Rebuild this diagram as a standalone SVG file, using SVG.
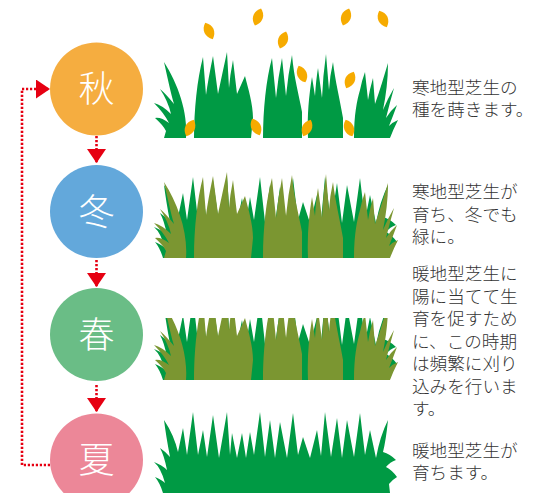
<svg xmlns="http://www.w3.org/2000/svg" xmlns:xlink="http://www.w3.org/1999/xlink" width="540" height="493" viewBox="0 0 540 493">
  <style>
    .season { fill: #fff; font-family: "Noto Sans CJK JP", "Noto Sans", sans-serif; font-size: 36px; font-weight: 300; text-anchor: middle; }
    .note { fill: #333; font-family: "Noto Sans CJK JP", "Noto Sans", sans-serif; font-size: 17.6px; font-weight: 300; }
    .green { fill: #009a44; }
    .olive { fill: #7b9631; }
    .leaf { fill: #f6ab00; }
    .link { fill: none; stroke: #e60012; stroke-width: 2.6; stroke-dasharray: 2.2 1.8; }
  </style>
  <defs>
    <marker id="head" viewBox="0 0 14 19" markerWidth="14" markerHeight="19" refX="14" refY="9.5" markerUnits="userSpaceOnUse" orient="auto">
      <path d="M0,0 L14,9.5 L0,19 Z" fill="#e60012"/>
    </marker>
    <!-- full summer tuft, base on y=493 -->
    <path id="tuft" d="M163,493 Q160,483 155,477 Q162,480 165,483 Q161,468 154,462 Q162,465 167,470 Q164,455 160,448 Q166,452 170,457 Q166,436 164,420 Q174,435 178,452 L183,428 L187,455 L193,412 L198,455 L203,430 L207,457 L213,415 L219,458 L227,412 L230,455 L232,433 L237,458 L242,433 L246,458 L250,432 L254,455 L260,412 L265,457 L270,420 L275,458 L280,422 L287,458 L293,413 L298,455 L303,437 L310,458 L317,430 L321,456 L325,412 L331,457 L337,418 L342,458 L347,420 L354,457 L360,413 L365,455 L370,430 L376,458 Q380,436 388,420 Q386,440 383,452 Q390,454 396,460 Q390,462 386,467 Q392,470 397,477 Q392,480 389,484 L390,493 Z"/>
    <!-- five separate clumps, base on y=138 -->
    <g id="clumps">
      <path d="M186,138 C188,112 178,84 164,62 C168,80 171,94 174,104 Q166,94 160,89 Q168,101 171,114 Q162,105 154,103 Q164,113 169,123 Q161,117 155,118 Q163,125 166,131 L164,138 Z"/>
      <path d="M194,138 C194,110 197,80 203,57 L206,95 Q208,80 213,56 L218,94 Q222,75 227,52 L229,88 Q230,75 233,60 L237,94 Q241,85 245,76 C248,88 253,104 253,118 L251,138 Z"/>
      <path d="M263,138 C263,110 266,80 272,58 L276,98 Q278,78 282,58 L286,96 Q288,75 292,55 C294,78 299,95 302,112 L302,138 Z"/>
      <path d="M308,138 C307,115 309,95 312,77 L315,96 Q316,80 318,68 L322,98 Q323,75 326,54 L329,90 Q330,75 333,62 C335,80 340,100 343,118 L343,138 Z"/>
      <path d="M354,138 C354,115 357,100 360,90 Q362,80 365,72 L368,100 Q370,88 373,78 L375,104 C380,90 384,76 388,63 C388,80 386,95 383,110 Q388,98 394,88 Q390,102 386,118 Q391,110 397,105 Q393,116 389,126 Q393,122 398,120 Q393,130 390,138 Z"/>
    </g>
    <path id="leafShape" d="M0,-9 C6.5,-4 6.5,4 0,9 C-6.5,4 -6.5,-4 0,-9 Z"/>
    <clipPath id="mowed">
      <rect x="150" y="318" width="252" height="63"/>
    </clipPath>
  </defs>

  <g id="connectors">
    <path class="link" d="M96.5,136 V163" marker-end="url(#head)"/>
    <path class="link" d="M96.5,260 V287" marker-end="url(#head)"/>
    <path class="link" d="M96.5,385 V412" marker-end="url(#head)"/>
    <path class="link" d="M50,465 H22 V89 H50" marker-end="url(#head)"/>
  </g>

  <g id="node-aki">
    <circle cx="96.5" cy="89" r="46.5" fill="#f5ad40"/>
    <text class="season" x="96.5" y="102">秋</text>
  </g>
  <g id="node-fuyu">
    <circle cx="96.5" cy="211.5" r="46.5" fill="#63a8db"/>
    <text class="season" x="96.5" y="224.5">冬</text>
  </g>
  <g id="node-haru">
    <circle cx="96.5" cy="334.5" r="46.5" fill="#6abd86"/>
    <text class="season" x="96.5" y="347.5">春</text>
  </g>
  <g id="node-natsu">
    <circle cx="96.5" cy="460" r="46.5" fill="#ec8798"/>
    <text class="season" x="96.5" y="473">夏</text>
  </g>

  <!-- autumn lawn with falling leaves -->
  <g id="lawn-aki">
    <use xlink:href="#clumps" class="green"/>
    <g class="leaf">
      <use xlink:href="#leafShape" transform="translate(209,31) rotate(-25)"/>
      <use xlink:href="#leafShape" transform="translate(258,17) rotate(20)"/>
      <use xlink:href="#leafShape" transform="translate(283,40) rotate(20)"/>
      <use xlink:href="#leafShape" transform="translate(346,17) rotate(20)"/>
      <use xlink:href="#leafShape" transform="translate(383,19) rotate(-25)"/>
      <use xlink:href="#leafShape" transform="translate(302,74) rotate(-22)"/>
      <use xlink:href="#leafShape" transform="translate(350,80) rotate(25)"/>
      <use xlink:href="#leafShape" transform="translate(190,128) rotate(25)"/>
      <use xlink:href="#leafShape" transform="translate(256,127) rotate(-25)"/>
      <use xlink:href="#leafShape" transform="translate(307,128) rotate(25)"/>
      <use xlink:href="#leafShape" transform="translate(349,128) rotate(-22)"/>
    </g>
  </g>

  <!-- winter lawn -->
  <g id="lawn-fuyu">
    <use xlink:href="#tuft" class="green" transform="translate(0,-235)"/>
    <use xlink:href="#clumps" class="olive" transform="translate(0,120)"/>
  </g>

  <!-- spring lawn, mowed short -->
  <g id="lawn-haru" clip-path="url(#mowed)">
    <use xlink:href="#tuft" class="green" transform="translate(0,-113)"/>
    <use xlink:href="#clumps" class="olive" transform="translate(0,242)"/>
  </g>

  <!-- summer lawn -->
  <g id="lawn-natsu">
    <use xlink:href="#tuft" class="green"/>
  </g>

  <g id="note-aki" class="note">
    <text x="412" y="94">寒地型芝生の</text>
    <text x="412" y="116">種を蒔きます。</text>
  </g>
  <g id="note-fuyu" class="note">
    <text x="412" y="198">寒地型芝生が</text>
    <text x="412" y="220.5">育ち、冬でも</text>
    <text x="412" y="243">緑に。</text>
  </g>
  <g id="note-haru" class="note">
    <text x="412" y="280">暖地型芝生に</text>
    <text x="412" y="302.5">陽に当てて生</text>
    <text x="412" y="325">育を促すため</text>
    <text x="412" y="347.5">に、この時期</text>
    <text x="412" y="370">は頻繁に刈り</text>
    <text x="412" y="392.5">込みを行いま</text>
    <text x="412" y="415">す。</text>
  </g>
  <g id="note-natsu" class="note">
    <text x="412" y="457">暖地型芝生が</text>
    <text x="412" y="478.5">育ちます。</text>
  </g>
</svg>
